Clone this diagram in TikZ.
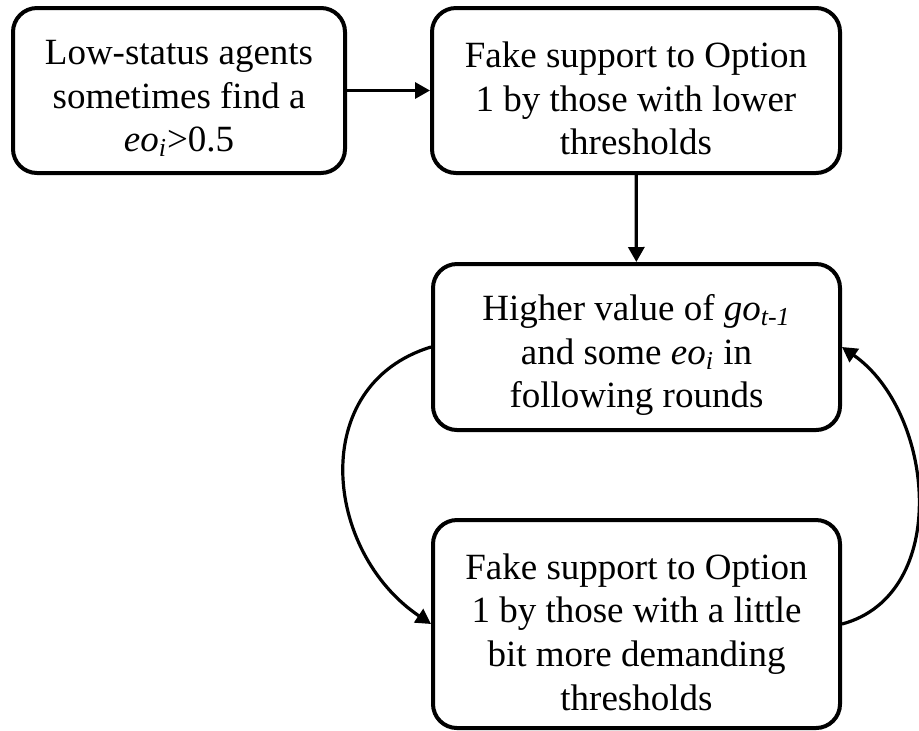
\documentclass[tikz,border=0pt]{standalone}
\usepackage{fontspec}
\setmainfont{Liberation Serif}
\usetikzlibrary{arrows.meta}
\tikzset{
  box/.style={draw, line width=2pt, rounded corners=12pt, inner sep=0pt},
  boxtext/.style={align=center, font=\fontsize{18.5}{21.8}\selectfont, inner sep=0pt, yshift=-4pt},
  link/.style={line width=1.6pt, -{Triangle[length=7.5pt,width=8pt]}}
}
\begin{document}
\begin{tikzpicture}[x=0.5pt,y=0.5pt]
\useasboundingbox (0,0) rectangle (919,-730);

% frames
\node[box, minimum width=166pt, minimum height=82.5pt] (low) at (179,-90.5) {};
\node[box, minimum width=204pt, minimum height=82.5pt] (fakeA) at (636,-90.5) {};
\node[box, minimum width=203.5pt, minimum height=83pt] (higher) at (636.5,-347) {};
\node[box, minimum width=203.5pt, minimum height=104pt] (fakeB) at (636.5,-624) {};

% labels
\node[boxtext] (low-t) at (low) {Low-status agents\\sometimes find a\\\textit{eo}\textsubscript{\textit{i}}>0.5};
\node[boxtext] (fakeA-t) at (fakeA) {Fake support to Option\\1 by those with lower\\thresholds};
\node[boxtext] (higher-t) at (higher) {Higher value of \textit{go}\textsubscript{\textit{t-1}}\\and some \textit{eo}\textsubscript{\textit{i}} in\\following rounds};
\node[boxtext] (fakeB-t) at (fakeB) {Fake support to Option\\1 by those with a little\\bit more demanding\\thresholds};

% connectors
\draw[link] (low) -- (fakeA);
\draw[link] (fakeA) -- (higher);
\draw[link] (higher.west) to[out=197, in=146, looseness=1.2] (fakeB.west);
\draw[link] (fakeB.east) to[out=15, in=325, looseness=1.05] (higher.east);
\end{tikzpicture}
\end{document}
